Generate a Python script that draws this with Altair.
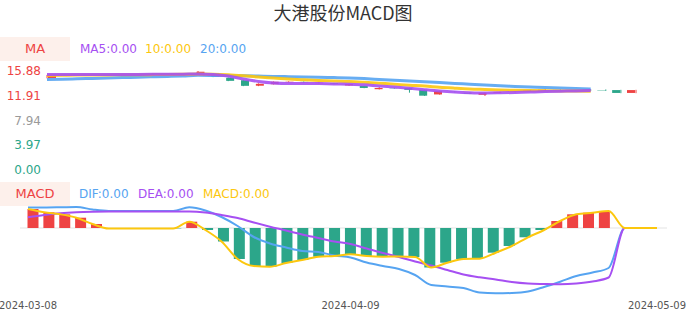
import altair as alt
import pandas as pd

title_text = "大港股份MACD图"

dates = [
    "2024-03-08", "2024-03-11", "2024-03-12", "2024-03-13", "2024-03-14", "2024-03-15",
    "2024-03-18", "2024-03-19", "2024-03-20", "2024-03-21", "2024-03-22",
    "2024-03-25", "2024-03-26", "2024-03-27", "2024-03-28", "2024-03-29",
    "2024-04-01", "2024-04-02", "2024-04-03",
    "2024-04-08", "2024-04-09", "2024-04-10", "2024-04-11", "2024-04-12",
    "2024-04-15", "2024-04-16", "2024-04-17", "2024-04-18", "2024-04-19",
    "2024-04-22", "2024-04-23", "2024-04-24", "2024-04-25", "2024-04-26",
    "2024-04-29", "2024-04-30",
    "2024-05-06", "2024-05-07", "2024-05-08", "2024-05-09",
]
open_p = [14.75, 15.22, 15.30, 15.34, 15.31, 15.28, 15.31, 15.31, 15.36, 15.40,
          15.42, 15.50, 14.80, 14.40, 13.52, 13.76, 14.08, 14.14, 13.92, 13.92,
          13.56, 13.47, 12.96, 13.16, 13.16, 12.86, 12.12, 12.56, 12.40, 12.06,
          12.38, 12.50, 12.66, 12.70, 12.86, 12.80, 12.92, 12.76, 12.82, 12.36]
close_p = [15.20, 15.18, 15.36, 15.31, 15.28, 15.31, 15.33, 15.37, 15.34, 15.37,
           15.76, 14.95, 14.30, 13.50, 13.82, 14.15, 14.16, 14.06, 14.00, 13.80,
           13.80, 13.16, 13.15, 13.10, 12.86, 11.92, 12.68, 12.50, 12.22, 12.38,
           12.52, 12.58, 12.76, 12.88, 12.80, 12.74, 12.72, 12.70, 12.36, 12.82]
high_p = [15.25, 15.28, 15.40, 15.38, 15.35, 15.34, 15.36, 15.42, 15.39, 15.44,
          15.88, 15.55, 14.85, 14.45, 13.90, 14.20, 14.22, 14.20, 14.06, 13.98,
          13.85, 13.50, 13.30, 13.20, 13.20, 12.90, 12.72, 12.60, 12.44, 12.42,
          12.56, 12.62, 12.86, 12.92, 12.90, 12.84, 12.95, 12.92, 12.86, 12.86]
low_p = [14.70, 15.12, 15.26, 15.28, 15.25, 15.25, 15.28, 15.29, 15.31, 15.34,
         15.38, 14.90, 14.25, 13.45, 13.45, 13.72, 14.02, 14.00, 13.88, 13.76,
         13.50, 13.12, 12.92, 13.05, 12.40, 11.88, 12.08, 12.45, 12.18, 11.88,
         12.34, 12.46, 12.62, 12.66, 12.76, 12.70, 12.68, 12.68, 12.32, 12.32]

ma5 = [15.32, 15.30, 15.32, 15.33, 15.33, 15.32, 15.33, 15.35, 15.35, 15.37,
       15.40, 15.32, 15.08, 14.60, 14.20, 13.96, 13.88, 13.88, 13.86, 13.80,
       13.76, 13.67, 13.47, 13.31, 13.11, 12.88, 12.67, 12.51, 12.40, 12.35,
       12.38, 12.43, 12.51, 12.58, 12.64, 12.69, 12.74]
ma10 = [15.16, 15.19, 15.22, 15.24, 15.25, 15.27, 15.29, 15.30, 15.32, 15.35,
        15.40, 15.37, 15.27, 15.11, 14.92, 14.76, 14.60, 14.47, 14.36, 14.28,
        14.20, 14.07, 13.92, 13.76, 13.60, 13.47, 13.27, 13.12, 12.99, 12.91,
        12.83, 12.78, 12.74, 12.70, 12.67, 12.66, 12.64]
ma20 = [14.52, 14.57, 14.63, 14.69, 14.76, 14.82, 14.89, 14.95, 15.01, 15.08,
        15.19, 15.17, 15.14, 15.11, 15.06, 15.01, 14.97, 14.92, 14.87, 14.82,
        14.76, 14.66, 14.53, 14.40, 14.28, 14.15, 14.02, 13.89, 13.76, 13.63,
        13.51, 13.41, 13.31, 13.23, 13.15, 13.07, 12.99]

macd = [0.190, 0.157, 0.137, 0.103, 0.040, -0.005, -0.004, -0.004, -0.004, -0.004,
        0.063, -0.020, -0.135, -0.310, -0.380, -0.387, -0.350, -0.320, -0.287, -0.280,
        -0.263, -0.280, -0.287, -0.285, -0.290, -0.395, -0.347, -0.310, -0.307, -0.247,
        -0.180, -0.093, -0.020, 0.070, 0.137, 0.153, 0.170, 0.0, 0.0, 0.0]
dif = [0.205, 0.205, 0.207, 0.210, 0.185, 0.170, 0.170, 0.170, 0.170, 0.170,
       0.207, 0.175, 0.110, 0.020, -0.090, -0.155, -0.195, -0.230, -0.240, -0.275,
       -0.295, -0.345, -0.380, -0.410, -0.470, -0.570, -0.585, -0.600, -0.645, -0.653,
       -0.650, -0.635, -0.590, -0.537, -0.480, -0.445, -0.400, 0.0, 0.0, 0.0]
dea = [0.107, 0.130, 0.147, 0.157, 0.162, 0.164, 0.164, 0.164, 0.164, 0.164,
       0.165, 0.155, 0.130, 0.100, 0.055, 0.013, -0.025, -0.065, -0.100, -0.135,
       -0.160, -0.205, -0.250, -0.290, -0.335, -0.375, -0.420, -0.465, -0.493, -0.515,
       -0.540, -0.555, -0.560, -0.563, -0.555, -0.535, -0.495, 0.0, 0.0, 0.0]

price_ticks = [15.88, 11.91, 7.94, 3.97, 0.00]
date_ticks = ["2024-03-08", "2024-04-09", "2024-05-09"]

RED = "#ee4343"
GREEN = "#2ca68a"
BLUE = "#56a4f1"
PURPLE = "#a64ff2"
YELLOW = "#fcc70e"
GRAY = "#9a9a9a"
BOXBG = "#fdf0eb"
FONT = "DejaVu Sans"

n = len(dates)
idx = list(range(n))

kdf = pd.DataFrame({"i": idx, "date": dates, "open": open_p, "close": close_p,
                    "high": high_p, "low": low_p})
kdf["dir"] = ["up" if c >= o else "down" for o, c in zip(open_p, close_p)]

madf = pd.DataFrame({"i": idx[:len(ma5)], "ma5": ma5, "ma10": ma10, "ma20": ma20})

mdf = pd.DataFrame({"i": idx, "date": dates, "macd": macd, "dif": dif, "dea": dea})
mdf["zero"] = 0.0
mdf["dir"] = ["up" if v >= 0 else "down" for v in macd]

mid = price_ticks[2]
tdf = pd.DataFrame({"v": price_ticks,
                    "label": [f"{v:.2f}" for v in price_ticks],
                    "tone": ["up" if v > mid else ("flat" if v == mid else "down")
                             for v in price_ticks]})

ddf = pd.DataFrame({"date": date_ticks, "i": [dates.index(d) for d in date_ticks]})

X_TOP = alt.Scale(domain=[0, n - 1], range=[47, 636], nice=False, zero=False)
X_BOT = alt.Scale(domain=[0, n - 1], range=[28, 657], nice=False, zero=False)
Y_TOP = alt.Scale(domain=[0, 15.88], range=[170, 71], nice=False, zero=False)
Y_BOT = alt.Scale(domain=[-0.7, 0.3], range=[298, 198], nice=False, zero=False)
DIR_COL = alt.Scale(domain=["up", "down"], range=[RED, GREEN])

xt = alt.X("i:Q", scale=X_TOP, axis=None)
xb = alt.X("i:Q", scale=X_BOT, axis=None)


def one(text):
    return pd.DataFrame({"t": [text]})


def label(text, x, y, color, size=12, align="left", font=FONT):
    return alt.Chart(one(text)).mark_text(
        align=align, baseline="middle", fontSize=size, font=font, color=color
    ).encode(text="t:N", x=alt.value(x), y=alt.value(y))


def box(y0, y1):
    return alt.Chart(one("b")).mark_rect(color=BOXBG).encode(
        x=alt.value(0), x2=alt.value(70), y=alt.value(y0), y2=alt.value(y1))


title = label(title_text, 343, 15, "#333333", size=18, align="center",
              font="Noto Sans CJK SC")

# top panel
ylabels = alt.Chart(tdf).mark_text(align="right", baseline="middle", fontSize=12,
                                   font=FONT).encode(
    x=alt.value(41),
    y=alt.Y("v:Q", scale=Y_TOP, axis=None),
    text="label:N",
    color=alt.Color("tone:N", scale=alt.Scale(domain=["up", "flat", "down"],
                                              range=[RED, GRAY, GREEN]), legend=None),
)

wicks = alt.Chart(kdf).mark_rule(strokeWidth=1).encode(
    x=xt, y=alt.Y("low:Q", scale=Y_TOP, axis=None), y2="high:Q",
    color=alt.Color("dir:N", scale=DIR_COL, legend=None))
bodies = alt.Chart(kdf).mark_bar(size=8).encode(
    x=xt, y=alt.Y("open:Q", scale=Y_TOP, axis=None), y2="close:Q",
    color=alt.Color("dir:N", scale=DIR_COL, legend=None))


def ma_line(field, color):
    return alt.Chart(madf).mark_line(strokeWidth=3, interpolate="monotone",
                                     opacity=0.9).encode(
        x=xt, y=alt.Y(f"{field}:Q", scale=Y_TOP, axis=None), color=alt.value(color))


# bottom panel
zero_line = alt.Chart(one("z")).mark_rule(color="#e3e3e3", strokeWidth=1).encode(
    x=alt.value(20), x2=alt.value(667),
    y=alt.Y("zero:Q", scale=Y_BOT, axis=None)).transform_calculate(zero="0")

bars = alt.Chart(mdf).mark_bar(size=11).encode(
    x=xb, y=alt.Y("macd:Q", scale=Y_BOT, axis=None), y2="zero:Q",
    color=alt.Color("dir:N", scale=DIR_COL, legend=None))


def m_line(field, color):
    return alt.Chart(mdf).mark_line(strokeWidth=2, interpolate="monotone").encode(
        x=xb, y=alt.Y(f"{field}:Q", scale=Y_BOT, axis=None), color=alt.value(color))


date_labels = alt.Chart(ddf).mark_text(align="center", baseline="middle", fontSize=10,
                                       font=FONT, color="#555555").encode(
    x=xb, y=alt.value(306), text="date:N")

layers = [
    title,
    box(37, 61), label("MA", 35, 49, RED, size=13, align="center"),
    label("MA5:0.00", 80, 49, PURPLE), label("10:0.00", 145, 49, YELLOW),
    label("20:0.00", 200, 49, BLUE),
    ylabels, wicks, bodies,
    ma_line("ma20", BLUE), ma_line("ma10", YELLOW), ma_line("ma5", PURPLE),
    box(182, 206), label("MACD", 35, 194, RED, size=13, align="center"),
    label("DIF:0.00", 79, 194, BLUE), label("DEA:0.00", 138, 194, PURPLE),
    label("MACD:0.00", 203, 194, YELLOW),
    zero_line, bars,
    m_line("dif", BLUE), m_line("dea", PURPLE), m_line("macd", YELLOW),
    date_labels,
]

chart = alt.layer(*layers).resolve_scale(
    x="independent", y="independent", color="independent"
).properties(
    width=686, height=320, padding=0,
    autosize=alt.AutoSizeParams(type="none"),
    background="white",
).configure_view(stroke=None)

chart.save("out.html", embed_options={"renderer": "svg", "actions": False})
